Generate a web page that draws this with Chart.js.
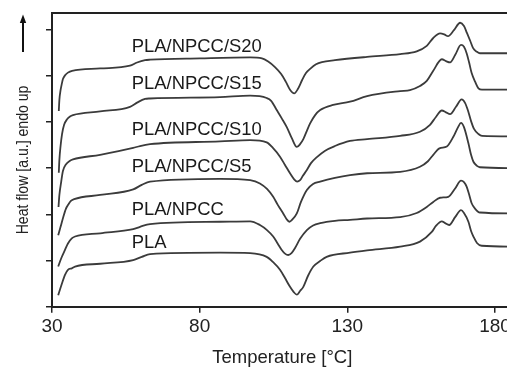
<!DOCTYPE html>
<html>
<head>
<meta charset="utf-8">
<script src="https://cdn.jsdelivr.net/npm/chart.js@4.4.1/dist/chart.umd.min.js"></script>
<style>
  html, body { margin: 0; padding: 0; background: #fff; overflow: hidden; width: 507px; height: 367px; }
  canvas { display: block; }
</style>
</head>
<body>
<canvas id="dsc" width="520" height="367"></canvas>
<script>
// DSC heating scans, curves stacked with vertical offsets (arbitrary units, endo up)
const xTicks = [30, 80, 130, 180];
const yTicks = [0, 1, 2, 3, 4, 5, 6];

const seriesNames = ['PLA/NPCC/S20', 'PLA/NPCC/S15', 'PLA/NPCC/S10', 'PLA/NPCC/S5', 'PLA/NPCC', 'PLA'];
const yAxisTitle = 'Heat flow [a.u.] endo up';

// temperature [°C] / heat flow [a.u.] for each sample
const tS20 = [32.3, 32.5, 32.9, 33.3, 33.7, 34.4, 35.4, 36.8, 46.3, 56.4, 58.8, 61.5, 63.2, 80.1, 97.1,
  101.1, 103.2, 105.5, 107.6, 109.2, 110.6, 112.0, 113.3, 114.7, 116.0, 117.4, 119.4, 121.4, 125.8,
  136.7, 147.9, 153.5, 156.9, 159.1, 161.4, 162.8, 164.1, 166.1, 168.2, 169.5, 170.5, 171.6, 172.6, 173.9, 174.9, 186];
const hS20 = [4.24, 4.48, 4.69, 4.82, 4.93, 5.01, 5.07, 5.11, 5.16, 5.22, 5.29, 5.34, 5.35, 5.38, 5.40,
  5.38, 5.31, 5.19, 5.04, 4.87, 4.70, 4.62, 4.72, 4.91, 5.06, 5.15, 5.25, 5.30, 5.34,
  5.41, 5.47, 5.53, 5.65, 5.82, 5.92, 5.90, 5.86, 5.99, 6.15, 6.08, 5.93, 5.76, 5.60, 5.52, 5.49, 5.49];

const tS15 = [32.3, 32.5, 32.9, 33.4, 34.1, 35.1, 36.1, 37.1, 46.3, 56.4, 58.8, 61.5, 63.2, 86.9, 97.1,
  102.7, 104.2, 106.1, 107.8, 109.5, 111.2, 112.9, 114.0, 115.1, 116.3, 117.4, 119.1, 120.8, 125.2, 130.9,
  136.7, 147.9, 151.2, 154.6, 156.9, 159.1, 162.0, 163.4, 164.8, 166.5, 168.5, 169.5, 170.4, 171.2, 172.1, 173.3, 174.4, 175.6, 186];
const hS15 = [2.90, 3.18, 3.48, 3.74, 3.94, 4.06, 4.12, 4.15, 4.23, 4.33, 4.42, 4.50, 4.51, 4.54, 4.57,
  4.52, 4.46, 4.26, 4.08, 3.89, 3.65, 3.46, 3.52, 3.63, 3.81, 3.97, 4.15, 4.26, 4.37, 4.44,
  4.56, 4.67, 4.69, 4.78, 4.89, 5.11, 5.36, 5.32, 5.29, 5.45, 5.67, 5.63, 5.49, 5.30, 5.06, 4.87, 4.73, 4.70, 4.70];

const tS10 = [32.2, 32.5, 33.1, 33.7, 34.7, 36.1, 37.1, 46.3, 57.5, 59.8, 63.2, 86.9, 97.1,
  102.7, 104.8, 107.2, 108.9, 110.6, 112.0, 113.0, 114.0, 115.0, 116.3, 117.7, 119.7, 122.5, 125.8, 130.9,
  136.7, 147.9, 154.6, 158.0, 160.0, 162.0, 163.4, 164.8, 166.8, 168.7, 169.9, 170.9, 171.9, 172.9, 174.4, 175.6, 186];
const hS10 = [2.16, 2.42, 2.70, 2.94, 3.08, 3.16, 3.19, 3.29, 3.44, 3.48, 3.52, 3.58, 3.61,
  3.56, 3.44, 3.25, 3.07, 2.89, 2.76, 2.71, 2.74, 2.84, 2.96, 3.11, 3.24, 3.38, 3.48, 3.59,
  3.63, 3.70, 3.79, 3.94, 4.11, 4.25, 4.21, 4.17, 4.33, 4.49, 4.41, 4.24, 4.02, 3.85, 3.74, 3.70, 3.69];

const tS5 = [32.1, 32.9, 33.8, 34.7, 35.6, 36.4, 37.5, 46.3, 57.5, 60.4, 63.2, 86.9, 97.1,
  100.4, 102.8, 104.9, 106.5, 108.3, 109.4, 110.4, 111.4, 112.9, 114.3, 116.3, 118.4, 120.8, 125.8, 130.9,
  136.7, 147.9, 154.6, 157.3, 159.1, 161.2, 163.7, 165.9, 167.5, 168.5, 169.5, 171.0, 171.9, 172.7, 173.9, 174.9, 186];
const hS5 = [1.55, 1.73, 1.94, 2.12, 2.22, 2.29, 2.33, 2.42, 2.54, 2.64, 2.71, 2.77, 2.74,
  2.67, 2.55, 2.38, 2.20, 2.02, 1.90, 1.84, 1.89, 2.02, 2.27, 2.53, 2.66, 2.71, 2.79, 2.85,
  2.89, 2.92, 3.03, 3.15, 3.29, 3.43, 3.47, 3.68, 3.89, 3.98, 3.89, 3.54, 3.29, 3.14, 3.05, 3.02, 3.00];

const tNPCC = [32.1, 33.2, 34.4, 35.4, 36.7, 37.8, 46.3, 57.5, 59.8, 63.2, 86.9, 97.1,
  100.4, 102.8, 104.9, 106.4, 107.8, 108.9, 110.0, 111.1, 112.3, 114.0, 116.3, 118.4, 120.8, 125.8, 130.9,
  136.7, 147.9, 153.5, 156.9, 159.1, 161.4, 164.2, 166.5, 168.5, 169.5, 170.4, 171.2, 172.1, 173.3, 174.9, 186];
const hNPCC = [0.87, 1.06, 1.23, 1.37, 1.48, 1.52, 1.59, 1.68, 1.73, 1.79, 1.84, 1.85,
  1.77, 1.66, 1.52, 1.37, 1.23, 1.15, 1.12, 1.16, 1.27, 1.47, 1.66, 1.76, 1.81, 1.86, 1.88,
  1.91, 1.94, 2.03, 2.16, 2.27, 2.36, 2.38, 2.56, 2.73, 2.70, 2.60, 2.44, 2.24, 2.12, 2.04, 2.02];

const tPLA = [32.1, 33.2, 34.4, 35.4, 36.7, 37.8, 46.3, 57.5, 60.4, 63.2, 86.9, 97.1,
  102.7, 104.8, 107.2, 108.9, 110.6, 111.8, 112.9, 114.0, 115.1, 116.7, 118.5, 120.8, 123.0, 130.9,
  136.7, 147.9, 154.6, 158.6, 160.0, 162.0, 163.1, 164.5, 166.5, 168.5, 169.5, 171.0, 171.9, 172.7, 173.9, 175.5, 186];
const hPLA = [0.25, 0.47, 0.69, 0.80, 0.83, 0.87, 0.93, 1.01, 1.08, 1.14, 1.17, 1.16,
  1.08, 0.97, 0.80, 0.62, 0.43, 0.32, 0.26, 0.34, 0.43, 0.67, 0.87, 0.99, 1.08, 1.17,
  1.22, 1.30, 1.41, 1.62, 1.75, 1.85, 1.81, 1.77, 1.94, 2.09, 2.03, 1.84, 1.64, 1.52, 1.38, 1.32, 1.30];

// where each sample name is written (temperature, heat flow of text middle)
const nameAnchorT = 57.0;
const nameAnchorH = [5.64, 4.83, 3.83, 3.03, 2.09, 1.39];

const temps = [tS20, tS15, tS10, tS5, tNPCC, tPLA];
const flows = [hS20, hS15, hS10, hS5, hNPCC, hPLA];

const ink = '#222222';
const curveInk = '#3b3b3b';
const fontFam = '"Liberation Sans", Arial, Helvetica, sans-serif';

const datasets = seriesNames.map((name, i) => ({
  label: name,
  data: temps[i].map((t, k) => ({ x: t, y: flows[i][k] })),
  borderColor: curveInk,
  borderWidth: 1.8,
  pointRadius: 0,
  fill: false,
  cubicInterpolationMode: 'monotone'
}));

// sample names next to each curve, the narrow y-axis title and the "endo up" arrow
const annotate = {
  id: 'annotate',
  afterDatasetsDraw(chart) {
    const { ctx, chartArea, scales: { x, y } } = chart;
    ctx.save();
    ctx.fillStyle = '#1a1a1a';
    ctx.font = '19px ' + fontFam;
    ctx.textBaseline = 'middle';
    ctx.textAlign = 'left';
    seriesNames.forEach((name, i) => {
      const px = x.getPixelForValue(nameAnchorT);
      const py = y.getPixelForValue(nameAnchorH[i]);
      ctx.save();
      ctx.translate(px, py);
      ctx.scale(0.97, 1);
      ctx.fillText(name, 0, 0);
      ctx.restore();
    });

    // y-axis title, set in a condensed face
    ctx.save();
    ctx.translate(23.5, (chartArea.top + chartArea.bottom) / 2);
    ctx.rotate(-Math.PI / 2);
    ctx.scale(0.88, 1);
    ctx.font = '16px ' + fontFam;
    ctx.textAlign = 'center';
    ctx.fillStyle = ink;
    ctx.fillText(yAxisTitle, 0, 0);
    ctx.restore();

    // arrow pointing up
    ctx.strokeStyle = '#111';
    ctx.lineWidth = 2;
    ctx.beginPath();
    ctx.moveTo(23, 52);
    ctx.lineTo(23, 22);
    ctx.stroke();
    ctx.fillStyle = '#111';
    ctx.beginPath();
    ctx.moveTo(23, 14.5);
    ctx.lineTo(19.8, 23);
    ctx.lineTo(26.2, 23);
    ctx.closePath();
    ctx.fill();
    ctx.restore();
  }
};

new Chart(document.getElementById('dsc'), {
  type: 'line',
  data: { datasets },
  plugins: [annotate],
  options: {
    responsive: false,
    animation: false,
    layout: { padding: { left: 0, top: 13.3, right: 7.3, bottom: 0 } },
    plugins: { legend: { display: false }, tooltip: { enabled: false } },
    scales: {
      x: {
        type: 'linear',
        position: 'bottom',
        min: 30,
        max: 186,
        afterBuildTicks: (s) => { s.ticks = xTicks.map(v => ({ value: v })); },
        afterFit: (s) => { s.height = 60.3; },
        grid: { drawOnChartArea: false, drawTicks: true, tickLength: 6, color: ink, lineWidth: 1.5 },
        border: { display: true, color: ink, width: 2 },
        ticks: { color: ink, padding: 3, maxRotation: 0, autoSkip: false, font: { family: fontFam, size: 19 } },
        title: {
          display: true,
          text: 'Temperature [°C]',
          color: ink,
          font: { family: fontFam, size: 18.5, lineHeight: 1 },
          padding: { top: 0, bottom: 0 }
        }
      },
      xTop: {
        type: 'linear',
        position: 'top',
        min: 30,
        max: 186,
        afterFit: (s) => { s.height = 0; },
        grid: { display: false },
        ticks: { display: false },
        border: { display: true, color: ink, width: 2 }
      },
      y: {
        type: 'linear',
        min: 0,
        max: 6.355,
        afterBuildTicks: (s) => { s.ticks = yTicks.map(v => ({ value: v })); },
        afterFit: (s) => { s.width = 52; },
        grid: { drawOnChartArea: false, drawTicks: true, tickLength: 6, color: ink, lineWidth: 1.5 },
        border: { display: true, color: ink, width: 2 },
        ticks: { display: false },
        title: { display: false }
      }
    }
  }
});
</script>
</body>
</html>
